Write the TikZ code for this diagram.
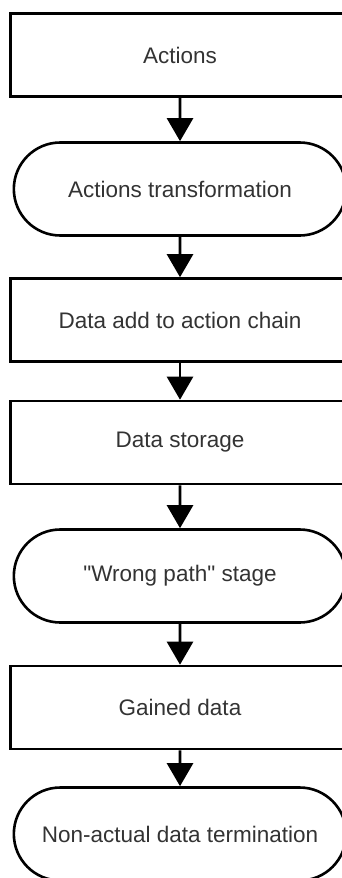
\documentclass[tikz,border=0pt]{standalone}
\usepackage{fontspec}
\setmainfont{Liberation Sans}
\usetikzlibrary{shapes.misc, arrows.meta}

\begin{document}
\begin{tikzpicture}[x = 1pt, y = -1pt, 
        procbox/.style={rectangle, draw, line width=2.6pt, minimum width=339pt, minimum height=83pt, text=black!80, font=\fontsize{22.5}{27}\selectfont},
        termbox/.style={rounded rectangle, draw, line width=2.6pt, minimum width=339pt, minimum height=93pt, text=black!80, font=\fontsize{22.5}{27}\selectfont},
        flow/.style={line width=2.6pt, -{Triangle[width=26pt, length=23pt]}}]
        
        \useasboundingbox (0, 0) rectangle (342, 878);
        \clip (0, 0) rectangle (342, 878);
        
        \node[procbox] at (180, 55) (act){Actions};
        \node[termbox] at (180, 189) (trans){Actions transformation};
        \node[procbox] at (180, 320) (chain){Data add to action chain};
        \node[procbox] at (180, 442.5) (store){Data storage};
        \node[termbox] at (180, 576) (wrong){\textquotedbl Wrong path\textquotedbl{} stage};
        \node[procbox] at (180, 707.5) (gained){Gained data};
        \node[termbox] at (180, 834) (term){Non-actual data termination};
        
        \draw[flow] (act) -- (trans);
        \draw[flow] (trans) -- (chain);
        \draw[flow] (chain) -- (store);
        \draw[flow] (store) -- (wrong);
        \draw[flow] (wrong) -- (gained);
        \draw[flow] (gained) -- (term);
        \end{tikzpicture}
\end{document}
